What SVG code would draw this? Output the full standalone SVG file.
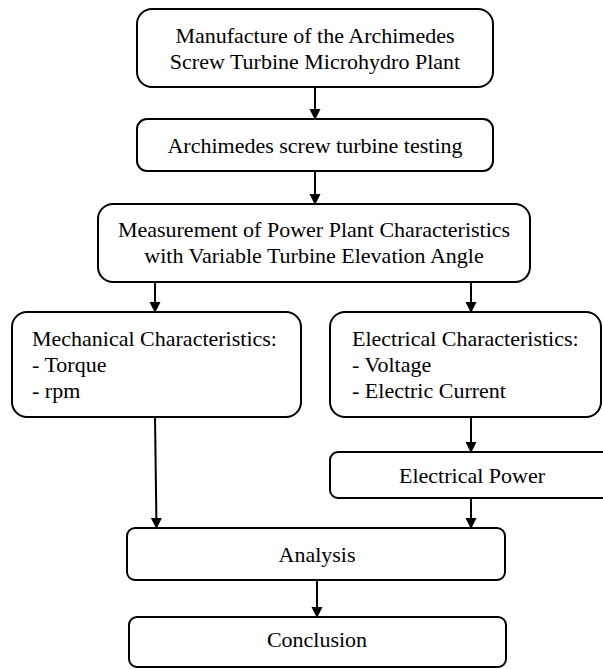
<svg xmlns="http://www.w3.org/2000/svg" width="603" height="669" viewBox="0 0 603 669">
<style>
.box{fill:#fff;stroke:#000;stroke-width:2}
text{font-family:"Liberation Serif","Times New Roman",serif;font-size:22px;fill:#000}
.c{text-anchor:middle}
.conn line{stroke:#000;stroke-width:2}
</style>
<defs>
<marker id="ah" markerWidth="11" markerHeight="12" refX="10" refY="5.5" orient="auto" markerUnits="userSpaceOnUse">
<path d="M0,0 L11,5.5 L0,11 Z" fill="#000"/>
</marker>
</defs>
<rect width="603" height="669" fill="#fff"/>
<g class="conn">
<line x1="315" y1="88" x2="315" y2="119" marker-end="url(#ah)"/>
<line x1="315" y1="171" x2="315" y2="204" marker-end="url(#ah)"/>
<line x1="155" y1="282" x2="155" y2="312" marker-end="url(#ah)"/>
<line x1="471" y1="282" x2="471" y2="312" marker-end="url(#ah)"/>
<line x1="471" y1="417" x2="471" y2="452" marker-end="url(#ah)"/>
<line x1="155" y1="417" x2="156.5" y2="528" marker-end="url(#ah)"/>
<line x1="471" y1="498" x2="471" y2="528" marker-end="url(#ah)"/>
<line x1="317" y1="580" x2="317" y2="617" marker-end="url(#ah)"/>
</g>
<g id="manufacture">
<rect class="box" x="137" y="9" width="356" height="78" rx="15"/>
<text class="c" x="315" y="43">Manufacture of the Archimedes</text>
<text class="c" x="315" y="69">Screw Turbine Microhydro Plant</text>
</g>
<g id="testing">
<rect class="box" x="137" y="119" width="356" height="52" rx="10"/>
<text class="c" x="315" y="153">Archimedes screw turbine testing</text>
</g>
<g id="measurement">
<rect class="box" x="98" y="204" width="432" height="78" rx="15"/>
<text class="c" x="314" y="237">Measurement of Power Plant Characteristics</text>
<text class="c" x="314" y="263">with Variable Turbine Elevation Angle</text>
</g>
<g id="mechanical">
<rect class="box" x="12" y="312" width="289" height="105" rx="15"/>
<text x="32" y="346">Mechanical Characteristics:</text>
<text x="32" y="372">- Torque</text>
<text x="32" y="398">- rpm</text>
</g>
<g id="electrical">
<rect class="box" x="330" y="312" width="271" height="105" rx="15"/>
<text x="352" y="346">Electrical Characteristics:</text>
<text x="352" y="372">- Voltage</text>
<text x="352" y="398">- Electric Current</text>
</g>
<g id="power">
<rect class="box" x="330" y="452" width="284" height="46" rx="8"/>
<text class="c" x="472" y="483">Electrical Power</text>
</g>
<g id="analysis">
<rect class="box" x="127" y="528" width="378" height="52" rx="8"/>
<text class="c" x="317" y="562">Analysis</text>
</g>
<g id="conclusion">
<rect class="box" x="129" y="617" width="377" height="50" rx="8"/>
<text class="c" x="317" y="647">Conclusion</text>
</g>
</svg>
